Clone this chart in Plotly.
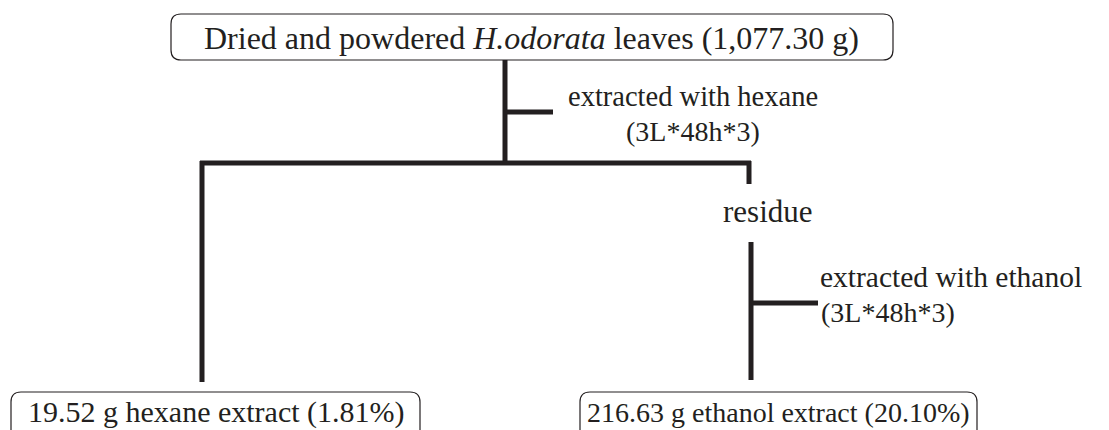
import plotly.graph_objects as go

# Node labels
top_label = "Dried and powdered <i>H.odorata</i> leaves (1,077.30 g)"
step1_label = ["extracted with hexane", "(3L*48h*3)"]
residue_label = "residue"
step2_label = ["extracted with ethanol", "(3L*48h*3)"]
product_labels = ["19.52 g hexane extract (1.81%)", "216.63 g ethanol extract (20.10%)"]

W, H = 1109, 430
INK = "#231f20"
FAM = "Liberation Serif, Times New Roman, serif"

def F(size):
    return dict(family=FAM, size=size, color=INK)

fig = go.Figure()

def rbox(x0, y0, x1, y1, r=10):
    p = (f"M {x0+r},{y0} L {x1-r},{y0} Q {x1},{y0} {x1},{y0+r} "
         f"L {x1},{y1-r} Q {x1},{y1} {x1-r},{y1} L {x0+r},{y1} "
         f"Q {x0},{y1} {x0},{y1-r} L {x0},{y0+r} Q {x0},{y0} {x0+r},{y0} Z")
    fig.add_shape(type="path", path=p, xref="x", yref="y",
                  line=dict(color=INK, width=1.2), fillcolor="white", layer="below")

# connector segments (x list, y list)
segments = [
    ([505, 505], [60, 163]),
    ([505, 553], [112, 112]),
    ([200, 751], [163, 163]),
    ([202, 202], [161, 382]),
    ([749, 749], [161, 184]),
    ([751, 751], [242, 380]),
    ([751, 818], [303, 303]),
]
for xs, ys in segments:
    fig.add_trace(go.Scatter(x=xs, y=ys, mode="lines",
                             line=dict(color=INK, width=5), hoverinfo="skip",
                             showlegend=False))

rbox(171, 14, 893, 60)
rbox(11, 392, 420, 445)
rbox(580, 392, 977, 445)

def ann(x, y, text, size, xanchor="center"):
    fig.add_annotation(x=x, y=y, text=text, showarrow=False, xref="x", yref="y",
                       xanchor=xanchor, yanchor="middle", font=F(size))

ann(531, 38, top_label, 32)
ann(693, 96, step1_label[0], 28.5)
ann(693, 131, step1_label[1], 28)
ann(768, 211, residue_label, 31)
ann(818, 277, step2_label[0], 29.5, "left")
ann(819, 312, step2_label[1], 28, "left")
ann(216, 412, product_labels[0], 30)
ann(778, 412, product_labels[1], 28)

fig.update_layout(
    width=W, height=H, margin=dict(l=0, r=0, t=0, b=0),
    paper_bgcolor="white", plot_bgcolor="white",
    xaxis=dict(range=[0, W], visible=False, fixedrange=True),
    yaxis=dict(range=[H, 0], visible=False, fixedrange=True),
    showlegend=False,
)
fig.write_html("out.html", config={"displayModeBar": False},
               post_script="document.body.style.margin='0';document.body.style.overflow='hidden';")
